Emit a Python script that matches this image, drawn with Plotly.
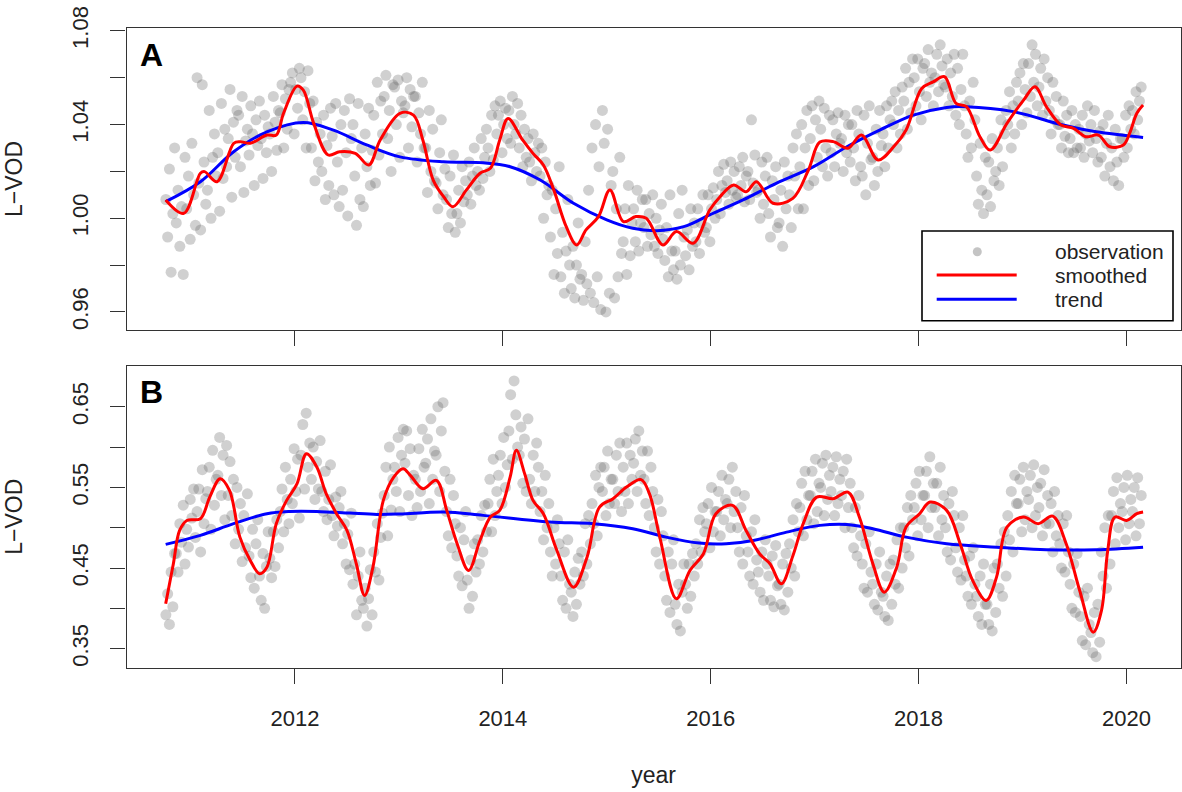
import plotly.graph_objects as go

# ---------------- data ----------------
# Panel A: smoothed curve
smooth_a_t = [2010.756, 2010.93, 2011.09, 2011.13, 2011.25, 2011.41, 2011.47, 2011.57, 2011.73, 2011.82,
              2011.89, 2012.02, 2012.08, 2012.18, 2012.32, 2012.43, 2012.58, 2012.71, 2012.82, 2013.01,
              2013.14, 2013.23, 2013.33, 2013.43, 2013.52, 2013.65, 2013.78, 2013.88, 2013.97, 2014.05,
              2014.19, 2014.29, 2014.39, 2014.49, 2014.61, 2014.71, 2014.80, 2014.92, 2015.03, 2015.16,
              2015.28, 2015.38, 2015.54, 2015.67, 2015.83, 2015.99, 2016.09, 2016.22, 2016.34, 2016.44,
              2016.60, 2016.79, 2016.94, 2017.05, 2017.18, 2017.32, 2017.45, 2017.61, 2017.76, 2017.88,
              2018.03, 2018.14, 2018.25, 2018.36, 2018.46, 2018.59, 2018.69, 2018.85, 2019.01, 2019.12,
              2019.23, 2019.37, 2019.49, 2019.61, 2019.73, 2019.84, 2019.97, 2020.03, 2020.10, 2020.16]
smooth_a_v = [1.0078, 1.0021, 1.0192, 1.0199, 1.0156, 1.0320, 1.0327, 1.0320, 1.0355, 1.0355,
              1.0448, 1.0564, 1.0547, 1.0405, 1.0270, 1.0284, 1.0277, 1.0227, 1.0334, 1.0448,
              1.0440, 1.0334, 1.0163, 1.0092, 1.0049, 1.0121, 1.0192, 1.0213, 1.0334, 1.0426,
              1.0334, 1.0277, 1.0227, 1.0121, 0.9964, 0.9886, 0.9950, 1.0007, 1.0121, 0.9986,
              1.0007, 1.0000, 0.9886, 0.9943, 0.9893, 1.0035, 1.0092, 1.0142, 1.0113, 1.0156,
              1.0064, 1.0085, 1.0206, 1.0325, 1.0327, 1.0299, 1.0355, 1.0249, 1.0305, 1.0377,
              1.0554, 1.0582, 1.0604, 1.0490, 1.0476, 1.0348, 1.0291, 1.0405, 1.0504, 1.0561,
              1.0476, 1.0398, 1.0384, 1.0348, 1.0355, 1.0305, 1.0313, 1.0362, 1.0448, 1.0483]

# Panel A: trend curve
trend_a_t = [2010.756, 2011.09, 2011.41, 2011.73, 2012.08, 2012.37, 2012.69, 2013.01, 2013.43, 2013.81,
             2014.07, 2014.36, 2014.68, 2015.00, 2015.25, 2015.48, 2015.74, 2015.99, 2016.31, 2016.63,
             2016.99, 2017.31, 2017.63, 2017.95, 2018.27, 2018.46, 2018.91, 2019.39, 2019.71, 2020.16]
trend_a_v = [1.0071, 1.0156, 1.0284, 1.0369, 1.0409, 1.0376, 1.0313, 1.0262, 1.0241, 1.0237,
             1.0220, 1.0163, 1.0064, 0.9993, 0.9957, 0.9947, 0.9964, 1.0014, 1.0078, 1.0149,
             1.0220, 1.0305, 1.0377, 1.0440, 1.0473, 1.0476, 1.0455, 1.0398, 1.0369, 1.0345]

# Panel B: smoothed curve
smooth_b_t = [2010.756, 2010.83, 2010.89, 2010.96, 2011.09, 2011.18, 2011.28, 2011.37, 2011.47, 2011.57,
              2011.66, 2011.73, 2011.82, 2011.92, 2012.02, 2012.11, 2012.21, 2012.30, 2012.40, 2012.50,
              2012.59, 2012.67, 2012.75, 2012.85, 2012.95, 2013.04, 2013.11, 2013.23, 2013.36, 2013.46,
              2013.56, 2013.67, 2013.78, 2013.88, 2013.97, 2014.07, 2014.13, 2014.21, 2014.29, 2014.39,
              2014.52, 2014.68, 2014.81, 2014.93, 2015.06, 2015.19, 2015.33, 2015.41, 2015.51, 2015.67,
              2015.80, 2015.93, 2016.05, 2016.21, 2016.34, 2016.47, 2016.57, 2016.68, 2016.79, 2016.89,
              2017.02, 2017.18, 2017.32, 2017.43, 2017.56, 2017.67, 2017.79, 2017.88, 2018.01, 2018.11,
              2018.27, 2018.40, 2018.52, 2018.65, 2018.75, 2018.85, 2019.01, 2019.15, 2019.29, 2019.42,
              2019.55, 2019.68, 2019.76, 2019.82, 2019.89, 2020.00, 2020.10, 2020.16]
smooth_b_v = [0.4057, 0.4553, 0.4966, 0.5090, 0.5112, 0.5380, 0.5608, 0.5463, 0.4883, 0.4594,
              0.4430, 0.4511, 0.5050, 0.5339, 0.5546, 0.5918, 0.5752, 0.5422, 0.5174, 0.4966,
              0.4553, 0.4160, 0.4511, 0.5339, 0.5628, 0.5732, 0.5649, 0.5484, 0.5587, 0.5215,
              0.4802, 0.4470, 0.4842, 0.5132, 0.5215, 0.5628, 0.5959, 0.5670, 0.5339, 0.5174,
              0.4718, 0.4263, 0.4635, 0.5256, 0.5360, 0.5504, 0.5596, 0.5422, 0.4883, 0.4119,
              0.4470, 0.4677, 0.5174, 0.5277, 0.4966, 0.4677, 0.4553, 0.4305, 0.4650, 0.5050,
              0.5380, 0.5360, 0.5442, 0.5132, 0.4553, 0.4201, 0.4511, 0.5008, 0.5174, 0.5318,
              0.5215, 0.4802, 0.4346, 0.4098, 0.4387, 0.5008, 0.5132, 0.5050, 0.5144, 0.4802,
              0.4222, 0.3705, 0.3974, 0.4718, 0.5132, 0.5090, 0.5174, 0.5194]

# Panel B: trend curve
trend_b_t = [2010.756, 2011.09, 2011.41, 2011.73, 2011.95, 2012.21, 2012.53, 2012.79, 2013.01, 2013.43,
             2013.81, 2014.45, 2014.87, 2015.25, 2015.57, 2015.89, 2016.15, 2016.41, 2016.73, 2017.05,
             2017.31, 2017.56, 2017.88, 2018.27, 2018.75, 2019.23, 2019.71, 2020.16]
trend_b_v = [0.4793, 0.4905, 0.5050, 0.5174, 0.5202, 0.5202, 0.5181, 0.5165, 0.5170, 0.5194,
             0.5153, 0.5070, 0.5050, 0.4988, 0.4883, 0.4809, 0.4801, 0.4842, 0.4945, 0.5029,
             0.5041, 0.4988, 0.4883, 0.4801, 0.4759, 0.4727, 0.4727, 0.4759]

# Observations: one row per 0.1-year window starting 2010.8, six observations per window
obs_start = 2010.80
obs_step = 0.10
obs_a = [
    [1.008, 0.992, 1.021, 0.977, 1.002, 1.030], [0.998, 1.012, 0.988, 1.005, 0.976, 1.026],
    [1.004, 1.018, 0.991, 1.032, 1.010, 0.997], [1.060, 1.015, 0.995, 1.057, 1.024, 1.006],
    [1.012, 1.046, 1.000, 1.026, 1.036, 1.018], [1.028, 1.003, 1.049, 1.017, 1.038, 1.022],
    [1.034, 1.055, 1.009, 1.041, 1.026, 1.046], [1.044, 1.022, 1.052, 1.011, 1.033, 1.038],
    [1.027, 1.048, 1.036, 1.014, 1.042, 1.031], [1.050, 1.034, 1.017, 1.044, 1.028, 1.039],
    [1.036, 1.020, 1.052, 1.041, 1.029, 1.046], [1.045, 1.057, 1.030, 1.051, 1.038, 1.055],
    [1.058, 1.062, 1.036, 1.055, 1.047, 1.064], [1.060, 1.042, 1.054, 1.030, 1.063, 1.049],
    [1.030, 1.050, 1.016, 1.041, 1.024, 1.036], [1.020, 1.044, 1.008, 1.031, 1.014, 1.047],
    [1.035, 1.010, 1.049, 1.024, 1.005, 1.040], [1.012, 1.046, 1.028, 1.001, 1.051, 1.034],
    [1.040, 1.018, 0.997, 1.049, 1.008, 1.030], [1.005, 1.036, 1.022, 1.047, 1.014, 1.029],
    [1.044, 1.015, 1.058, 1.027, 1.050, 1.036], [1.052, 1.061, 1.034, 1.046, 1.020, 1.057],
    [1.056, 1.040, 1.059, 1.026, 1.050, 1.045], [1.048, 1.060, 1.030, 1.055, 1.039, 1.052],
    [1.052, 1.024, 1.045, 1.036, 1.058, 1.030], [1.030, 1.011, 1.046, 1.020, 1.038, 1.016],
    [1.015, 1.004, 1.028, 1.042, 1.010, 1.021], [1.008, 0.996, 1.018, 1.002, 1.027, 0.994],
    [1.002, 1.012, 0.998, 1.022, 1.007, 1.016], [1.010, 1.024, 1.006, 1.018, 1.030, 1.014],
    [1.020, 1.012, 1.034, 1.017, 1.026, 1.038], [1.030, 1.020, 1.044, 1.025, 1.048, 1.036],
    [1.044, 1.050, 1.028, 1.040, 1.047, 1.034], [1.046, 1.032, 1.052, 1.040, 1.036, 1.049],
    [1.030, 1.044, 1.022, 1.038, 1.026, 1.034], [1.024, 1.016, 1.036, 1.028, 1.020, 1.032],
    [1.018, 1.030, 1.000, 1.024, 1.010, 1.014], [0.992, 1.012, 0.976, 1.004, 0.985, 1.022],
    [0.975, 0.994, 0.968, 0.986, 1.008, 0.980], [0.970, 0.988, 0.966, 0.980, 0.998, 0.974],
    [0.976, 0.965, 0.990, 0.972, 1.012, 0.968], [1.030, 0.964, 1.040, 0.975, 1.022, 0.961],
    [1.046, 1.032, 0.960, 1.038, 0.968, 1.014], [1.020, 0.966, 1.004, 0.975, 1.026, 0.985],
    [0.990, 1.004, 0.976, 1.014, 0.984, 0.998], [1.004, 0.990, 1.012, 0.986, 0.998, 1.008],
    [0.996, 1.008, 0.988, 1.002, 0.993, 1.010], [0.988, 1.000, 0.985, 0.995, 1.006, 0.991],
    [0.982, 0.996, 0.975, 1.010, 0.986, 0.978], [0.986, 0.974, 1.002, 0.980, 1.012, 0.992],
    [0.984, 0.995, 0.978, 1.004, 0.988, 0.998], [0.990, 1.004, 0.985, 0.998, 1.010, 0.994],
    [0.996, 1.010, 0.990, 1.004, 1.013, 1.000], [1.008, 1.020, 1.002, 1.014, 1.023, 1.011],
    [1.016, 1.006, 1.024, 1.012, 1.020, 1.009], [1.010, 1.022, 1.014, 1.026, 1.007, 1.018],
    [1.020, 1.008, 1.042, 1.015, 1.027, 1.011], [1.012, 1.000, 1.024, 1.006, 1.018, 1.026],
    [1.002, 0.992, 1.016, 1.008, 1.022, 0.996], [0.998, 1.012, 0.988, 1.024, 1.004, 1.018],
    [1.010, 0.996, 1.030, 1.018, 1.036, 1.004], [1.022, 1.040, 1.004, 1.030, 1.046, 1.014],
    [1.034, 1.048, 1.016, 1.042, 1.026, 1.050], [1.038, 1.022, 1.047, 1.030, 1.018, 1.044],
    [1.028, 1.042, 1.022, 1.036, 1.045, 1.032], [1.034, 1.020, 1.044, 1.028, 1.040, 1.024],
    [1.040, 1.030, 1.016, 1.046, 1.036, 1.022], [1.018, 1.044, 1.010, 1.032, 1.048, 1.025],
    [1.026, 1.014, 1.038, 1.020, 1.046, 1.031], [1.036, 1.022, 1.048, 1.030, 1.042, 1.050],
    [1.040, 1.054, 1.030, 1.046, 1.036, 1.056], [1.050, 1.064, 1.038, 1.058, 1.045, 1.068],
    [1.060, 1.048, 1.068, 1.054, 1.042, 1.064], [1.066, 1.052, 1.072, 1.058, 1.062, 1.048],
    [1.060, 1.070, 1.054, 1.074, 1.065, 1.057], [1.056, 1.068, 1.048, 1.062, 1.052, 1.070],
    [1.044, 1.064, 1.040, 1.055, 1.070, 1.048], [1.036, 1.026, 1.050, 1.030, 1.058, 1.042],
    [1.018, 1.006, 1.032, 1.012, 1.002, 1.026], [1.010, 1.024, 1.005, 1.034, 1.016, 1.020],
    [1.030, 1.014, 1.042, 1.022, 1.036, 1.046], [1.040, 1.054, 1.030, 1.048, 1.036, 1.058],
    [1.050, 1.062, 1.040, 1.066, 1.055, 1.045], [1.066, 1.052, 1.074, 1.058, 1.070, 1.048],
    [1.056, 1.064, 1.044, 1.068, 1.050, 1.060], [1.046, 1.036, 1.058, 1.042, 1.052, 1.040],
    [1.040, 1.030, 1.050, 1.035, 1.044, 1.028], [1.034, 1.046, 1.028, 1.040, 1.030, 1.038],
    [1.030, 1.044, 1.026, 1.036, 1.048, 1.033], [1.040, 1.028, 1.046, 1.034, 1.024, 1.037],
    [1.026, 1.040, 1.018, 1.032, 1.044, 1.022], [1.030, 1.016, 1.038, 1.024, 1.014, 1.034],
    [1.034, 1.026, 1.044, 1.030, 1.048, 1.038], [1.046, 1.036, 1.054, 1.042, 1.050, 1.056],
]
obs_b = [
    [0.392, 0.418, 0.380, 0.445, 0.402, 0.468], [0.468, 0.445, 0.505, 0.482, 0.528, 0.455],
    [0.498, 0.476, 0.535, 0.512, 0.548, 0.488], [0.520, 0.548, 0.470, 0.572, 0.505, 0.536],
    [0.545, 0.575, 0.498, 0.596, 0.528, 0.560], [0.565, 0.612, 0.540, 0.590, 0.510, 0.602],
    [0.540, 0.582, 0.515, 0.560, 0.480, 0.550], [0.498, 0.530, 0.458, 0.515, 0.475, 0.542],
    [0.465, 0.438, 0.498, 0.425, 0.480, 0.510], [0.440, 0.410, 0.468, 0.400, 0.452, 0.495],
    [0.462, 0.438, 0.495, 0.452, 0.510, 0.475], [0.520, 0.548, 0.495, 0.575, 0.535, 0.505],
    [0.560, 0.530, 0.598, 0.545, 0.585, 0.512], [0.590, 0.628, 0.548, 0.642, 0.575, 0.605],
    [0.560, 0.600, 0.535, 0.582, 0.548, 0.608], [0.545, 0.520, 0.570, 0.510, 0.535, 0.578],
    [0.515, 0.490, 0.538, 0.502, 0.525, 0.545], [0.480, 0.505, 0.455, 0.492, 0.448, 0.518],
    [0.430, 0.455, 0.392, 0.440, 0.470, 0.410], [0.400, 0.425, 0.378, 0.412, 0.448, 0.392],
    [0.470, 0.445, 0.505, 0.435, 0.488, 0.518], [0.540, 0.575, 0.490, 0.600, 0.522, 0.560],
    [0.575, 0.545, 0.612, 0.520, 0.590, 0.622], [0.580, 0.620, 0.540, 0.598, 0.515, 0.565],
    [0.560, 0.525, 0.598, 0.545, 0.622, 0.575], [0.580, 0.610, 0.530, 0.635, 0.560, 0.595],
    [0.590, 0.650, 0.545, 0.620, 0.655, 0.570], [0.520, 0.490, 0.560, 0.475, 0.540, 0.505],
    [0.465, 0.440, 0.500, 0.428, 0.485, 0.520], [0.435, 0.400, 0.460, 0.415, 0.480, 0.445],
    [0.485, 0.455, 0.515, 0.470, 0.528, 0.495], [0.530, 0.560, 0.495, 0.585, 0.515, 0.545],
    [0.565, 0.590, 0.530, 0.612, 0.550, 0.578], [0.620, 0.665, 0.585, 0.682, 0.640, 0.600],
    [0.590, 0.625, 0.555, 0.610, 0.545, 0.635], [0.560, 0.530, 0.590, 0.545, 0.605, 0.575],
    [0.520, 0.545, 0.485, 0.565, 0.500, 0.530], [0.470, 0.440, 0.500, 0.455, 0.510, 0.480],
    [0.440, 0.410, 0.470, 0.400, 0.485, 0.430], [0.420, 0.390, 0.445, 0.405, 0.462, 0.430],
    [0.470, 0.440, 0.505, 0.455, 0.515, 0.480], [0.530, 0.505, 0.565, 0.490, 0.550, 0.575],
    [0.545, 0.575, 0.515, 0.595, 0.530, 0.560], [0.560, 0.530, 0.590, 0.545, 0.605, 0.520],
    [0.575, 0.545, 0.605, 0.530, 0.590, 0.560], [0.580, 0.610, 0.545, 0.620, 0.565, 0.595],
    [0.560, 0.530, 0.595, 0.515, 0.575, 0.545], [0.500, 0.470, 0.535, 0.455, 0.520, 0.490],
    [0.440, 0.410, 0.470, 0.395, 0.455, 0.485], [0.405, 0.380, 0.430, 0.372, 0.420, 0.455],
    [0.430, 0.400, 0.455, 0.415, 0.468, 0.440], [0.480, 0.455, 0.510, 0.470, 0.525, 0.495],
    [0.505, 0.530, 0.475, 0.550, 0.495, 0.520], [0.520, 0.545, 0.490, 0.565, 0.510, 0.535],
    [0.530, 0.560, 0.500, 0.575, 0.520, 0.545], [0.500, 0.470, 0.525, 0.455, 0.540, 0.490],
    [0.470, 0.440, 0.495, 0.430, 0.510, 0.460], [0.445, 0.420, 0.470, 0.410, 0.485, 0.455],
    [0.440, 0.410, 0.465, 0.402, 0.478, 0.428], [0.430, 0.405, 0.455, 0.398, 0.468, 0.420],
    [0.480, 0.450, 0.510, 0.440, 0.530, 0.495], [0.525, 0.555, 0.490, 0.570, 0.510, 0.540],
    [0.540, 0.570, 0.505, 0.585, 0.520, 0.555], [0.550, 0.580, 0.515, 0.590, 0.535, 0.565],
    [0.545, 0.575, 0.515, 0.588, 0.530, 0.560], [0.540, 0.570, 0.500, 0.585, 0.525, 0.555],
    [0.500, 0.475, 0.525, 0.465, 0.540, 0.490], [0.455, 0.425, 0.480, 0.420, 0.495, 0.445],
    [0.430, 0.405, 0.455, 0.398, 0.470, 0.420], [0.415, 0.390, 0.440, 0.385, 0.455, 0.405],
    [0.460, 0.430, 0.485, 0.425, 0.500, 0.450], [0.500, 0.475, 0.525, 0.465, 0.540, 0.510],
    [0.525, 0.555, 0.490, 0.570, 0.510, 0.540], [0.540, 0.570, 0.500, 0.588, 0.525, 0.555],
    [0.525, 0.555, 0.490, 0.575, 0.510, 0.540], [0.500, 0.470, 0.530, 0.460, 0.545, 0.515],
    [0.475, 0.445, 0.500, 0.435, 0.515, 0.460], [0.440, 0.415, 0.465, 0.405, 0.475, 0.430],
    [0.415, 0.390, 0.440, 0.380, 0.455, 0.405], [0.405, 0.380, 0.430, 0.372, 0.450, 0.395],
    [0.455, 0.425, 0.480, 0.415, 0.495, 0.440], [0.515, 0.485, 0.545, 0.470, 0.565, 0.530],
    [0.530, 0.560, 0.495, 0.575, 0.510, 0.545], [0.535, 0.565, 0.500, 0.578, 0.515, 0.550],
    [0.525, 0.555, 0.490, 0.572, 0.505, 0.540], [0.505, 0.530, 0.470, 0.545, 0.490, 0.515],
    [0.480, 0.450, 0.505, 0.445, 0.515, 0.470], [0.430, 0.400, 0.455, 0.395, 0.468, 0.420],
    [0.390, 0.360, 0.415, 0.355, 0.425, 0.380], [0.370, 0.345, 0.395, 0.340, 0.405, 0.358],
    [0.470, 0.440, 0.500, 0.425, 0.515, 0.455], [0.515, 0.545, 0.480, 0.562, 0.500, 0.530],
    [0.520, 0.550, 0.485, 0.565, 0.505, 0.535], [0.520, 0.550, 0.490, 0.562, 0.505, 0.540],
]

x_ticks = [2012, 2014, 2016, 2018, 2020]
ya_ticks = [0.96, 0.98, 1.00, 1.02, 1.04, 1.06, 1.08]
ya_text = ["0.96", "", "1.00", "", "1.04", "", "1.08"]
yb_ticks = [0.35, 0.40, 0.45, 0.50, 0.55, 0.60, 0.65]
yb_text = ["0.35", "", "0.45", "", "0.55", "", "0.65"]

# --------------------------------------------------------------------------
obs_offsets = [-0.042, -0.025, -0.008, 0.008, 0.025, 0.042]


def obs_xy(rows):
    xs, ys = [], []
    for i, row in enumerate(rows):
        for k, v in enumerate(row):
            xs.append(obs_start + obs_step * i + obs_offsets[k])
            ys.append(v)
    return xs, ys


FONT = "Liberation Sans, Arial, Helvetica, sans-serif"
TXT = "#222222"
FRAME = "#333333"
OBS_COL = "rgba(100,100,100,0.3)"

fig = go.Figure()
for rows, yax, st, sv, tt, tv in [
    (obs_a, "y", smooth_a_t, smooth_a_v, trend_a_t, trend_a_v),
    (obs_b, "y2", smooth_b_t, smooth_b_v, trend_b_t, trend_b_v),
]:
    xax = "x" if yax == "y" else "x2"
    ox, oy = obs_xy(rows)
    fig.add_trace(go.Scatter(x=ox, y=oy, mode="markers", xaxis=xax, yaxis=yax,
                             marker=dict(size=11, color=OBS_COL, line=dict(width=0)),
                             name="observation", showlegend=False, hoverinfo="skip"))
    fig.add_trace(go.Scatter(x=tt, y=tv, mode="lines", xaxis=xax, yaxis=yax,
                             line=dict(color="#0000ff", width=3, shape="spline", smoothing=1.0),
                             name="trend", showlegend=False))
    fig.add_trace(go.Scatter(x=st, y=sv, mode="lines", xaxis=xax, yaxis=yax,
                             line=dict(color="#ff0000", width=3, shape="spline", smoothing=1.0),
                             name="smoothed", showlegend=False))

W, H = 1182, 792
x_dom = [126.5 / W, 1180.5 / W]
ya_dom = [1 - 330 / H, 1 - 28 / H]
yb_dom = [1 - 667.7 / H, 1 - 365.7 / H]
x_range = [2010.379, 2020.52]

axis_common = dict(showline=True, mirror=True, linecolor=FRAME, linewidth=1.3,
                   ticks="outside", ticklen=15, tickwidth=1.2, tickcolor=FRAME,
                   showgrid=False, zeroline=False, automargin=False,
                   tickfont=dict(family=FONT, size=22, color=TXT))

fig.update_layout(
    width=W, height=H, margin=dict(l=0, r=0, t=0, b=0),
    paper_bgcolor="white", plot_bgcolor="white", showlegend=False,
    xaxis=dict(domain=x_dom, range=x_range, anchor="y", tickvals=x_ticks,
               showticklabels=False, **axis_common),
    xaxis2=dict(domain=x_dom, range=x_range, anchor="y2", tickvals=x_ticks,
                ticktext=[str(v) for v in x_ticks], ticklabelstandoff=16,
                title=dict(text="year", standoff=36, font=dict(family=FONT, size=23, color=TXT)),
                **axis_common),
    yaxis=dict(domain=ya_dom, range=[0.9523, 1.0812], anchor="x", tickvals=ya_ticks,
               ticktext=ya_text, tickangle=-90, ticklabelstandoff=14,
               title=dict(text="L\u2212VOD", standoff=38, font=dict(family=FONT, size=23, color=TXT)),
               **axis_common),
    yaxis2=dict(domain=yb_dom, range=[0.3264, 0.7009], anchor="x2", tickvals=yb_ticks,
                ticktext=yb_text, tickangle=-90, ticklabelstandoff=14,
                title=dict(text="L\u2212VOD", standoff=38, font=dict(family=FONT, size=23, color=TXT)),
                **axis_common),
)

# Panel letters
fig.add_annotation(text="<b>A</b>", x=152 / W, y=1 - 54.7 / H, xref="paper", yref="paper",
                   showarrow=False, font=dict(family=FONT, size=32, color="black"),
                   xanchor="center", yanchor="middle")
fig.add_annotation(text="<b>B</b>", x=152 / W, y=1 - 391.7 / H, xref="paper", yref="paper",
                   showarrow=False, font=dict(family=FONT, size=32, color="black"),
                   xanchor="center", yanchor="middle")

# Legend (drawn like the R legend box)
fig.add_shape(type="rect", xref="paper", yref="paper", x0=922 / W, x1=1173 / W,
              y0=1 - 320.7 / H, y1=1 - 231 / H, line=dict(color="black", width=1.6),
              fillcolor="white", layer="above")
fig.add_shape(type="circle", xref="paper", yref="paper", x0=972.8 / W, x1=981.8 / W,
              y0=1 - 256.2 / H, y1=1 - 247.2 / H, line=dict(width=0), fillcolor="#c4c4c4",
              layer="above")
fig.add_shape(type="line", xref="paper", yref="paper", x0=936.7 / W, x1=1016.7 / W,
              y0=1 - 275 / H, y1=1 - 275 / H, line=dict(color="#ff0000", width=3), layer="above")
fig.add_shape(type="line", xref="paper", yref="paper", x0=936.7 / W, x1=1016.7 / W,
              y0=1 - 299.3 / H, y1=1 - 299.3 / H, line=dict(color="#0000ff", width=3), layer="above")
for label, py in [("observation", 251.7), ("smoothed", 275), ("trend", 299.3)]:
    fig.add_annotation(text=label, x=1053 / W, y=1 - py / H, xref="paper", yref="paper",
                       showarrow=False, xanchor="left", yanchor="middle",
                       font=dict(family=FONT, size=21, color=TXT))

fig.write_html("out.html")
